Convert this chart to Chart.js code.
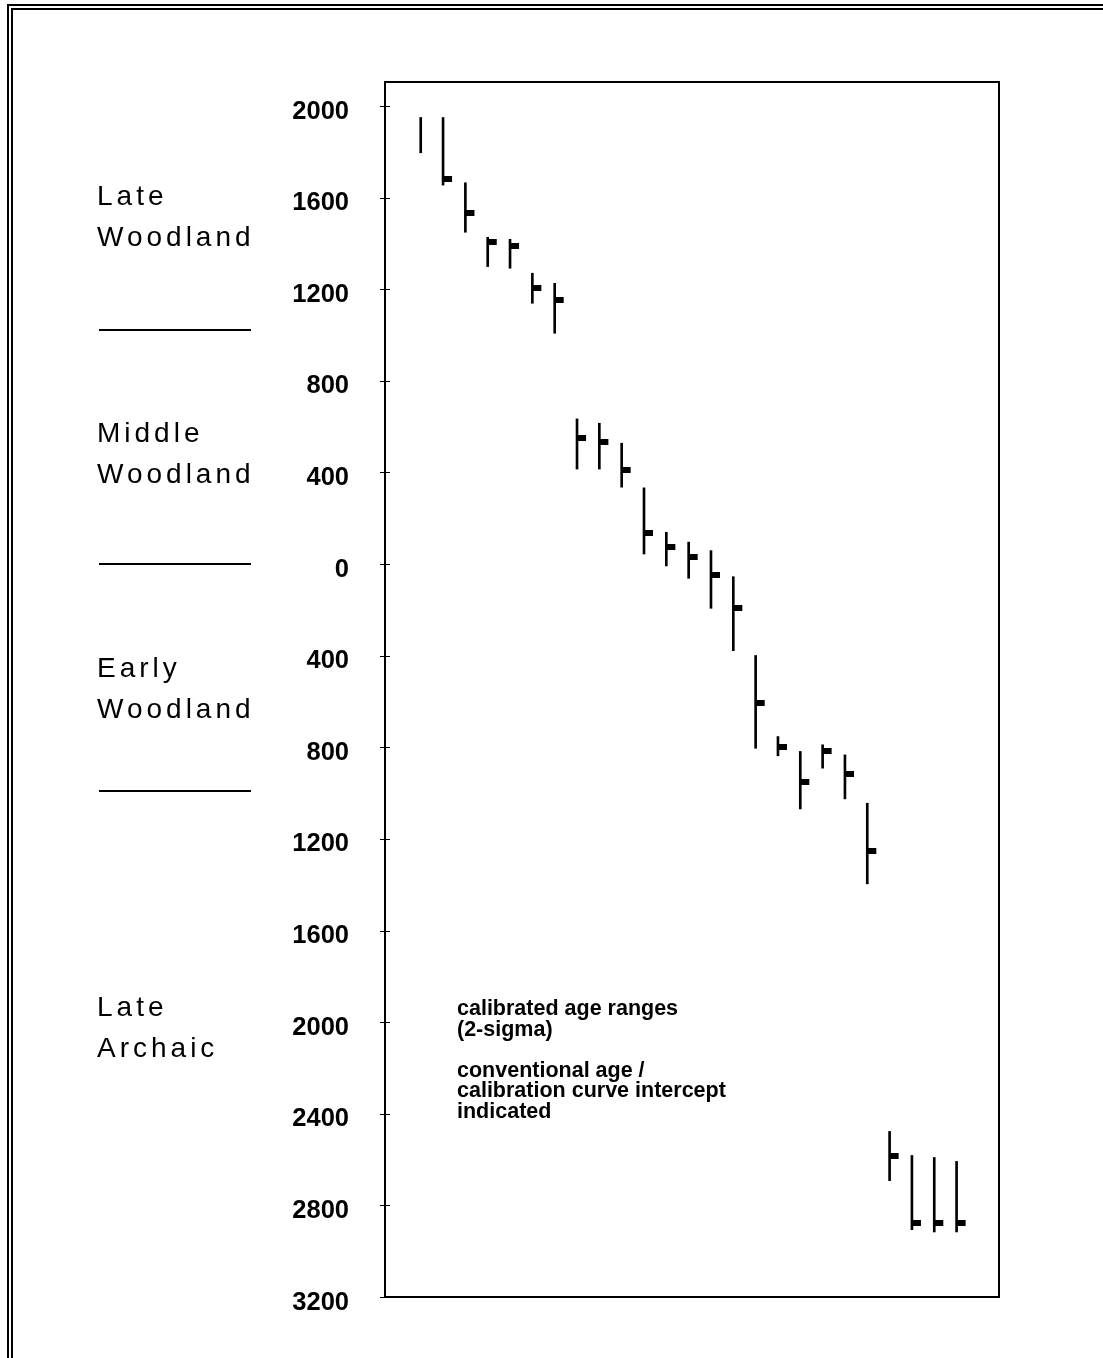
<!DOCTYPE html>
<html>
<head>
<meta charset="utf-8">
<title>Radiocarbon age ranges</title>
<script src="https://cdn.jsdelivr.net/npm/chart.js@4.4.1/dist/chart.umd.min.js"></script>
<style>
  html, body { margin: 0; padding: 0; background: #fff; overflow: hidden; }
  #wrap { position: relative; width: 1103px; height: 1358px; }
</style>
</head>
<body>
<div id="wrap"><canvas id="chart"></canvas></div>
<script>
// Calibrated 2-sigma age ranges (AD positive, BC negative), one per sample
const sampleNo    = [1, 2, 3, 4, 5, 6, 7, 8, 9, 10, 11, 12, 13, 14, 15, 16, 17, 18, 19, 20, 21, 22, 23, 24, 25];
const rangeTop    = [1950, 1950, 1665, 1427, 1418, 1270, 1226, 634, 615, 528, 333, 139, 96, 59, -55, -399, -753, -818, -789, -833, -1044, -2477, -2582, -2591, -2608];
const rangeBottom = [1796, 1655, 1449, 1299, 1292, 1139, 1008, 415, 415, 336, 44, -8, -62, -193, -378, -804, -837, -1069, -891, -1025, -1396, -2692, -2906, -2916, -2916];
// Conventional age / calibration curve intercept (none for the first sample)
const intercept   = [null, 1681, 1532, 1408, 1390, 1204, 1153, 552, 533, 411, 136, 75, 30, -49, -190, -606, -799, -951, -818, -916, -1251, -2585, -2877, -2877, -2877];

// Y axis ticks (years) and their printed labels
const yTickValues = [2000, 1600, 1200, 800, 400, 0, -400, -800, -1200, -1600, -2000, -2400, -2800, -3200];
const yTickLabels = ['2000', '1600', '1200', '800', '400', '0', '400', '800', '1200', '1600', '2000', '2400', '2800', '3200'];

// Cultural periods and the boundaries between them
const periodNames  = [['Late', 'Woodland'], ['Middle', 'Woodland'], ['Early', 'Woodland'], ['Late', 'Archaic']];
const periodBounds = [1020, 0, -990];

const noteLines = ['calibrated age ranges', '(2-sigma)', '', 'conventional age /', 'calibration curve intercept', 'indicated'];

// Flag marker: a small block to the right of the point centre
function makeFlag() {
  const c = document.createElement('canvas');
  c.width = 20; c.height = 6;
  const g = c.getContext('2d');
  g.fillStyle = '#000';
  g.fillRect(10, 0, 9, 6);
  return c;
}
const flag = makeFlag();

const rangeData = sampleNo.map((n, i) => ({ x: n, y: [rangeBottom[i], rangeTop[i]] }));
const interceptData = sampleNo
  .map((n, i) => ({ x: n, y: intercept[i] }))
  .filter(p => p.y !== null);

const decor = {
  id: 'decor',
  beforeDraw(chart) {
    const ctx = chart.ctx;
    ctx.save();
    ctx.fillStyle = '#fff';
    ctx.fillRect(0, 0, chart.width, chart.height);
    // double page frame (top and left)
    ctx.fillStyle = '#000';
    ctx.fillRect(7, 4, chart.width - 7, 2);
    ctx.fillRect(11, 8, chart.width - 11, 2);
    ctx.fillRect(7, 4, 2, chart.height - 4);
    ctx.fillRect(11, 8, 2, chart.height - 8);
    ctx.restore();
  },
  afterDraw(chart) {
    const ctx = chart.ctx;
    const a = chart.chartArea;
    const y = chart.scales.y;
    ctx.save();
    // plot box
    ctx.strokeStyle = '#000';
    ctx.lineWidth = 2;
    ctx.strokeRect(a.left, a.top, a.right - a.left, a.bottom - a.top);
    // tick marks crossing the left axis
    ctx.lineWidth = 1;
    ctx.beginPath();
    yTickValues.forEach(v => {
      const py = Math.round(y.getPixelForValue(v)) + 0.5;
      ctx.moveTo(a.left - 5, py);
      ctx.lineTo(a.left + 5, py);
    });
    ctx.stroke();

    // period separators
    ctx.fillStyle = '#000';
    periodBounds.forEach(v => {
      const py = y.getPixelForValue(v);
      ctx.fillRect(99, Math.round(py) - 1, 152, 2);
    });

    // period names
    ctx.font = '28px "Liberation Sans", Arial, sans-serif';
    ctx.letterSpacing = '4px';
    ctx.textAlign = 'left';
    ctx.textBaseline = 'alphabetic';
    const baselines = [205, 442, 677, 1016];
    periodNames.forEach((lines, i) => {
      lines.forEach((t, j) => ctx.fillText(t, 97, baselines[i] + j * 41));
    });

    // key text
    ctx.letterSpacing = '0px';
    ctx.font = 'bold 21.5px "Liberation Sans", Arial, sans-serif';
    let by = 1015;
    noteLines.forEach(t => {
      if (t) ctx.fillText(t, 457, by);
      by += 20.5;
    });
    ctx.restore();
  }
};

new Chart(document.getElementById('chart'), {
  type: 'bar',
  data: {
    datasets: [
      {
        type: 'bar',
        data: rangeData,
        backgroundColor: '#000',
        borderWidth: 0,
        barThickness: 2,
        grouped: false
      },
      {
        type: 'scatter',
        data: interceptData,
        pointStyle: flag,
        pointRadius: 3,
        pointHoverRadius: 3,
        showLine: false
      }
    ]
  },
  options: {
    responsive: true,
    maintainAspectRatio: false,
    animation: false,
    events: [],
    layout: { padding: { top: 82, bottom: 61, left: 0, right: 104 } },
    plugins: { legend: { display: false }, tooltip: { enabled: false } },
    scales: {
      x: {
        type: 'linear',
        min: -0.6,
        max: 26.9,
        offset: false,
        display: false
      },
      y: {
        type: 'linear',
        min: -3200,
        max: 2105,
        border: { display: false },
        grid: { display: false, drawTicks: false },
        afterBuildTicks: scale => { scale.ticks = yTickValues.map(v => ({ value: v })); },
        afterFit: scale => { scale.width = 385; },
        ticks: {
          padding: 36,
          labelOffset: 5.5,
          color: '#000',
          font: { family: '"Liberation Sans", Arial, sans-serif', weight: 'bold', size: 25.5 },
          callback: (v, i) => yTickLabels[i]
        }
      }
    }
  },
  plugins: [decor]
});
</script>
</body>
</html>
